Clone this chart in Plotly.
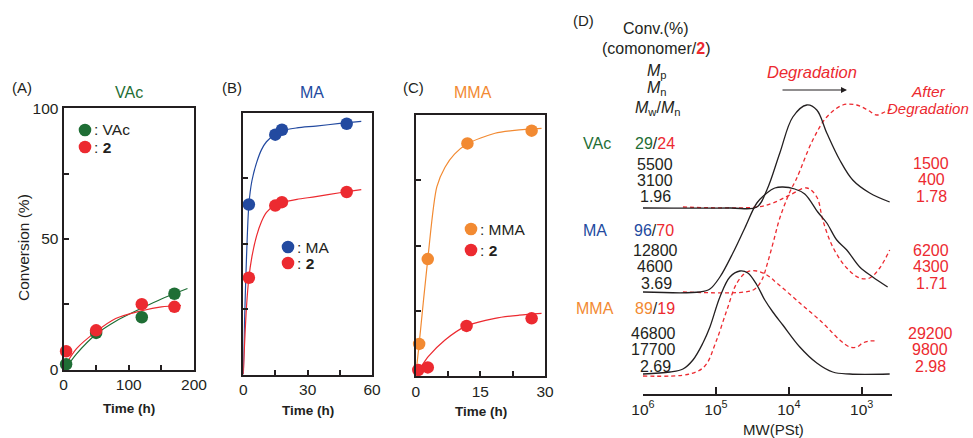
import plotly.graph_objects as go

W, H = 973, 438
def px(x): return x / W
def py(y): return 1 - y / H

# ---------------- data ----------------
# (A) VAc copolymerization
A_time = [4, 50, 120, 170]
A_conv_vac = [2, 14, 20, 29]
A_conv_2 = [7, 15, 25, 24]
A_fit_t_vac = [5, 20, 50, 80, 120, 150, 190]
A_fit_vac = [1, 6, 13.5, 18.5, 23.5, 27, 31]
A_fit_t_2 = [5, 20, 50, 80, 120, 150, 180]
A_fit_2 = [2.5, 8, 14.5, 19.5, 22.5, 24, 24.5]

# (B) MA copolymerization
B_time = [2.6, 14.9, 18, 48.2]
B_conv_ma = [65, 91.7, 93.6, 95.9]
B_conv_2 = [37, 64.6, 65.9, 69.8]
B_fit_t = [0, 0.5, 1.5, 2.6, 4, 6.2, 8.5, 10.8, 14.9, 18, 25, 33.8, 45, 55]
B_fit_ma = [0, 18, 45, 65, 74, 81, 86, 89, 92, 93.3, 94.3, 95, 96, 96.8]
B_fit_2 = [0, 10, 26, 37, 45, 53, 58.5, 62, 64.8, 65.8, 67, 68, 69.5, 70.7]

# (C) MMA copolymerization
C_time_mma = [0.8, 2.8, 12, 26.9]
C_conv_mma = [12.3, 44.8, 89.1, 94]
C_time_2 = [0.6, 2.8, 11.8, 26.9]
C_conv_2 = [2.3, 3.3, 19.2, 22.1]
C_fit_t_mma = [0, 0.8, 2.8, 4.9, 6.8, 9, 12, 18.4, 24, 29.2]
C_fit_mma = [0, 12.3, 44.8, 72.5, 80, 85, 89, 93, 94.3, 94.9]
C_fit_t_2 = [0, 1, 2.9, 6.8, 11.8, 18.4, 24, 29.2]
C_fit_2 = [1.5, 3, 7.4, 13.8, 19.2, 22.1, 23.3, 24]

# (D) GPC traces: log10(MW) and stacked intensity (arb. units)
VAc_before_logM = [6.0, 4.808, 4.438, 4.301, 4.123, 3.945, 3.753, 3.616, 3.479, 3.301, 3.123, 2.890, 2.616]
VAc_before_I = [186, 186, 187, 204, 241, 277, 289, 284, 261, 234, 214, 201, 192]
VAc_after_logM = [5.452, 4.438, 4.219, 3.986, 3.753, 3.616, 3.534, 3.397, 3.205, 3.027, 2.890, 2.753, 2.616]
VAc_after_I = [187, 187, 191, 199, 206, 197, 174, 147, 126, 116, 116, 126, 144]
MA_before_logM = [6.0, 5.219, 5.082, 4.945, 4.767, 4.603, 4.438, 4.301, 4.192, 4.082, 3.918, 3.781, 3.603, 3.479, 3.342, 3.205, 3.027, 2.849, 2.644]
MA_before_I = [102, 102, 105, 117, 141, 166, 191, 201, 206, 207, 205, 200, 182, 171, 154, 144, 127, 117, 107]
MA_after_logM = [5.452, 4.603, 4.466, 4.370, 4.288, 4.205, 4.123, 3.986, 3.890, 3.671, 3.479, 3.260, 3.068, 2.918, 2.795, 2.685, 2.589]
MA_after_I = [102, 102, 105, 114, 132, 154, 176, 202, 216, 254, 277, 289, 289, 284, 279, 282, 285]
MMA_before_logM = [6.0, 5.630, 5.452, 5.315, 5.178, 5.082, 4.945, 4.808, 4.671, 4.562, 4.438, 4.329, 4.219, 4.082, 3.849, 3.616, 3.397, 3.164, 2.616]
MMA_before_I = [20, 22, 25, 34, 51, 67, 97, 117, 123, 121, 109, 94, 82, 69, 47, 31, 22, 20, 20]
MMA_after_logM = [6.0, 5.356, 5.151, 5.0, 4.849, 4.712, 4.575, 4.438, 4.301, 4.164, 3.849, 3.534, 3.301, 3.164, 3.068, 2.986, 2.890, 2.781]
MMA_after_I = [18, 20, 28, 52, 84, 111, 122, 123, 119, 111, 91, 71, 54, 47, 47, 51, 53, 53]

D_tickvals = [1e6, 1e5, 1e4, 1e3]
D_ticktext = ["10<sup>6</sup>", "10<sup>5</sup>", "10<sup>4</sup>", "10<sup>3</sup>"]

# ---------------- style ----------------
GREEN = "#1f6e35"
RED = "#ec2a30"
BLUE = "#234aa0"
ORANGE = "#f28a32"
BLACK = "#231f20"
FONT = "Liberation Sans, Arial, sans-serif"

fig = go.Figure()

def fit(x, y, color, xa, ya):
    fig.add_trace(go.Scatter(x=x, y=y, mode="lines", line=dict(color=color, width=1.2, shape="spline", smoothing=0.8),
                             xaxis=xa, yaxis=ya, showlegend=False, hoverinfo="skip"))

def pts(x, y, color, xa, ya):
    fig.add_trace(go.Scatter(x=x, y=y, mode="markers", marker=dict(color=color, size=12.5, line=dict(width=0)),
                             xaxis=xa, yaxis=ya, showlegend=False, cliponaxis=False))

fit(A_fit_t_vac, A_fit_vac, GREEN, "x", "y")
fit(A_fit_t_2, A_fit_2, RED, "x", "y")
pts(A_time, A_conv_vac, GREEN, "x", "y")
pts(A_time, A_conv_2, RED, "x", "y")

fit(B_fit_t, B_fit_ma, BLUE, "x2", "y2")
fit(B_fit_t, B_fit_2, RED, "x2", "y2")
pts(B_time, B_conv_ma, BLUE, "x2", "y2")
pts(B_time, B_conv_2, RED, "x2", "y2")

fit(C_fit_t_mma, C_fit_mma, ORANGE, "x3", "y3")
fit(C_fit_t_2, C_fit_2, RED, "x3", "y3")
pts(C_time_mma, C_conv_mma, ORANGE, "x3", "y3")
pts(C_time_2, C_conv_2, RED, "x3", "y3")

def gpc(logm, inten, color, dash):
    fig.add_trace(go.Scatter(x=[10 ** v for v in logm], y=inten, mode="lines",
                             line=dict(color=color, width=1.3, dash=dash, shape="spline", smoothing=1.0),
                             xaxis="x4", yaxis="y4", showlegend=False, hoverinfo="skip"))

gpc(VAc_after_logM, VAc_after_I, RED, "4px,3px")
gpc(MA_after_logM, MA_after_I, RED, "4px,3px")
gpc(MMA_after_logM, MMA_after_I, RED, "4px,3px")
gpc(VAc_before_logM, VAc_before_I, BLACK, "solid")
gpc(MA_before_logM, MA_before_I, BLACK, "solid")
gpc(MMA_before_logM, MMA_before_I, BLACK, "solid")

tickfont = dict(family=FONT, size=15.5, color=BLACK)

def box(dom, rng, tv, minor_tv, anchor, horizontal, labels=True):
    d = [px(dom[0]), px(dom[1])] if horizontal else [py(dom[1]), py(dom[0])]
    return dict(domain=d, range=rng, tickmode="array", tickvals=tv, ticks="inside",
                ticklen=5, tickwidth=1.5, tickcolor=BLACK, showline=True, linecolor=BLACK, linewidth=2,
                minor=dict(tickmode="array", tickvals=minor_tv, ticks="inside", ticklen=5, tickwidth=1.5,
                           tickcolor=BLACK, showgrid=False),
                mirror=True, showgrid=False, zeroline=False, tickfont=tickfont, anchor=anchor,
                showticklabels=labels, fixedrange=True, automargin=False)

fig.update_layout(
    width=W, height=H, margin=dict(l=0, r=0, t=0, b=0, pad=0, autoexpand=False),
    paper_bgcolor="white", plot_bgcolor="rgba(0,0,0,0)",
    font=dict(family=FONT, color=BLACK),
    xaxis=box([63.5, 194], [0, 200], [0, 100, 200], [50, 150], "y", True),
    yaxis=box([108.3, 369.5], [0, 100], [0, 50, 100], [25, 75], "x", False),
    xaxis2=box([243.3, 372], [0, 60], [0, 30, 60], [15, 45], "y2", True),
    yaxis2=box([113, 374.5], [0, 100], [50], [25, 75], "x2", False, labels=False),
    xaxis3=box([415.7, 545], [0, 30], [0, 15, 30], [7.5, 22.5], "y3", True),
    yaxis3=box([115, 376], [0, 100], [50], [25, 75], "x3", False, labels=False),
    xaxis4=dict(domain=[px(643), px(892)], type="log", range=[6, 6 - (892 - 643) / 72.9],
                tickmode="array", tickvals=D_tickvals, ticktext=D_ticktext, ticks="inside", ticklen=7,
                tickwidth=2, tickcolor=BLACK, showline=True, linecolor=BLACK, linewidth=2, showgrid=False,
                zeroline=False, tickfont=tickfont, anchor="y4", fixedrange=True, automargin=False),
    yaxis4=dict(domain=[py(394), py(94)], range=[0, 300], visible=False, anchor="x4", fixedrange=True),
)

ann = []
def text(x, y, s, size=16, color=BLACK, xanchor="center", angle=0):
    ann.append(dict(x=px(x), y=py(y), xref="paper", yref="paper", text=s, showarrow=False,
                    font=dict(family=FONT, size=size, color=color), xanchor=xanchor, yanchor="middle",
                    textangle=angle))

# panel labels & titles
text(22, 87, "(A)", 15)
text(129, 92, "VAc", 16, GREEN)
text(232, 87, "(B)", 15)
text(312, 93, "MA", 16, BLUE)
text(413, 87, "(C)", 15)
text(473, 93, "MMA", 16, ORANGE)
text(583, 21, "(D)", 15)

# axis titles
text(23, 248, "Conversion (%)", 15.5, angle=-90)
text(129, 408, "<b>Time (h)</b>", 13.5)
text(308, 410, "<b>Time (h)</b>", 13.5)
text(481, 411, "<b>Time (h)</b>", 13.5)
text(773, 429, "MW(PSt)", 15)

# legends (marker dots as shapes + text)
shapes = []
def dot(x, y, color, r=6.3):
    shapes.append(dict(type="circle", xref="paper", yref="paper", x0=px(x - r), x1=px(x + r),
                       y0=py(y + r), y1=py(y - r), fillcolor=color, line=dict(width=0)))

dot(85, 130, GREEN); text(92, 130, ": VAc", 15.5, xanchor="left")
dot(85, 147, RED); text(92, 147, ": <b>2</b>", 15.5, xanchor="left")
dot(288, 247, BLUE); text(295, 247, ": MA", 15.5, xanchor="left")
dot(288, 263, RED); text(295, 263, ": <b>2</b>", 15.5, xanchor="left")
dot(471, 229, ORANGE); text(478, 229, ": MMA", 15.5, xanchor="left")
dot(471, 250, RED); text(478, 250, ": <b>2</b>", 15.5, xanchor="left")

# panel D header
text(656, 28, "Conv.(%)", 16)
text(656, 49, "(comonomer/<b><span style='color:%s'>2</span></b>)" % RED, 16)
text(657, 71, "<i>M</i><sub>p</sub>", 16)
text(657, 89, "<i>M</i><sub>n</sub>", 16)
text(657, 108, "<i>M</i><sub>w</sub>/<i>M</i><sub>n</sub>", 16)

text(597, 143, "VAc", 16, GREEN)
text(655, 143, "<span style='color:%s'>29</span>/<span style='color:%s'>24</span>" % (GREEN, RED), 16)
text(655, 164, "5500"); text(655, 180, "3100"); text(655, 196.5, "1.96")

text(595, 230, "MA", 16, BLUE)
text(654, 230, "<span style='color:%s'>96</span>/<span style='color:%s'>70</span>" % (BLUE, RED), 16)
text(655, 250, "12800"); text(655, 266.5, "4600"); text(656, 283, "3.69")

text(595, 308, "MMA", 16, ORANGE)
text(655, 308, "<span style='color:%s'>89</span>/<span style='color:%s'>19</span>" % (ORANGE, RED), 16)
text(653, 333, "46800"); text(653, 349.5, "17700"); text(655, 366, "2.69")

text(812, 72, "<i>Degradation</i>", 16.5, RED)
text(928, 91, "<i>After</i>", 15.5, RED)
text(928, 109, "<i>Degradation</i>", 15, RED)
text(931, 163, "1500", 16, RED); text(931, 179.5, "400", 16, RED); text(931, 196, "1.78", 16, RED)
text(931, 250, "6200", 16, RED); text(931, 266.5, "4300", 16, RED); text(931, 283, "1.71", 16, RED)
text(930, 333, "29200", 16, RED); text(930, 349.5, "9800", 16, RED); text(930, 366, "2.98", 16, RED)

# arrow
ann.append(dict(x=px(847), y=py(90), xref="paper", yref="paper", ax=-66, ay=0,
                text="", showarrow=True, arrowhead=2, arrowsize=1,
                arrowwidth=1.2, arrowcolor=BLACK))

fig.update_layout(annotations=ann, shapes=shapes)
fig.write_html("out.html", config={"displayModeBar": False},
               post_script="document.body.style.margin='0';document.body.style.overflow='hidden';")
